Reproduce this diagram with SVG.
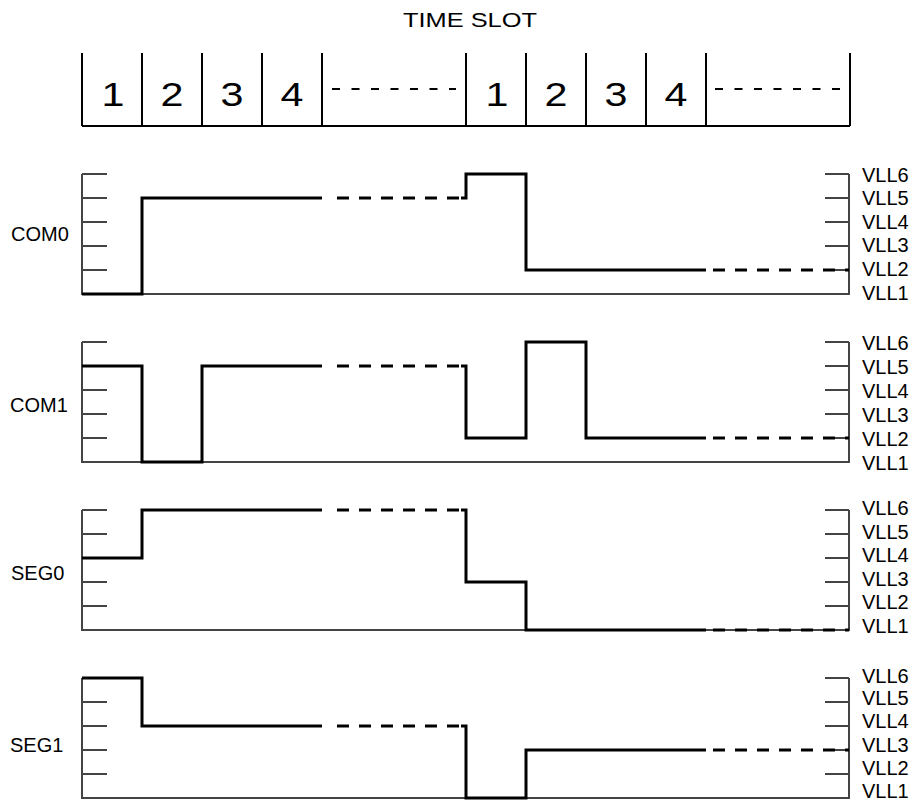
<svg xmlns="http://www.w3.org/2000/svg" width="915" height="806" viewBox="0 0 915 806">
<style>
text{font-family:"Liberation Sans",Arial,sans-serif;fill:#000}
.lbl{font-size:20px}
.dig{font-size:33px;text-anchor:middle}
.box{stroke:#000;stroke-width:2;fill:none}
.boxdash{stroke:#000;stroke-width:1.8;fill:none;stroke-dasharray:8 11.5}
.axis{stroke:#444;stroke-width:2;fill:none}
.wave{stroke:#000;stroke-width:3;fill:none;stroke-linejoin:miter}
.wdash{stroke:#000;stroke-width:3;fill:none;stroke-dasharray:12 10}
</style>
<rect width="915" height="806" fill="#fff"/>

<g id="time-slot">
<text x="403" y="27" font-size="21" textLength="134" lengthAdjust="spacingAndGlyphs">TIME SLOT</text>
<path class="box" d="M82,126 H850 M82,53 V126 M142,53 V126 M202,53 V126 M262,53 V126 M322,53 V126 M466,53 V126 M526,53 V126 M586,53 V126 M646,53 V126 M706,53 V126 M850,53 V126"/>
<path class="boxdash" d="M332,89 H456 M715,89 H840"/>
<g transform="translate(113,106) scale(1.25,1)"><text class="dig" x="0" y="0">1</text></g>
<g transform="translate(172,106) scale(1.25,1)"><text class="dig" x="0" y="0">2</text></g>
<g transform="translate(232,106) scale(1.25,1)"><text class="dig" x="0" y="0">3</text></g>
<g transform="translate(292,106) scale(1.25,1)"><text class="dig" x="0" y="0">4</text></g>
<g transform="translate(497,106) scale(1.25,1)"><text class="dig" x="0" y="0">1</text></g>
<g transform="translate(556,106) scale(1.25,1)"><text class="dig" x="0" y="0">2</text></g>
<g transform="translate(616,106) scale(1.25,1)"><text class="dig" x="0" y="0">3</text></g>
<g transform="translate(676,106) scale(1.25,1)"><text class="dig" x="0" y="0">4</text></g>
</g>

<g id="com0">
<text class="lbl" x="11" y="241">COM0</text>
<path class="axis" d="M82,174 V294 H849 V174 M82,174 H107 M82,198 H107 M82,222 H107 M82,246 H107 M82,270 H107 M825,174 H849 M825,198 H849 M825,222 H849 M825,246 H849 M825,270 H849"/>
<path class="wave" d="M82,294 H142 V198 H322 M461,198 H466 V174 H526 V270 H706"/>
<path class="wdash" d="M337,198 H459 M713,270 H849"/>
<text class="lbl" x="862" y="182">VLL6</text>
<text class="lbl" x="862" y="205">VLL5</text>
<text class="lbl" x="862" y="229">VLL4</text>
<text class="lbl" x="862" y="252">VLL3</text>
<text class="lbl" x="862" y="276">VLL2</text>
<text class="lbl" x="862" y="300">VLL1</text>
</g>

<g id="com1">
<text class="lbl" x="10" y="412">COM1</text>
<path class="axis" d="M82,342 V462 H849 V342 M82,342 H107 M82,366 H107 M82,390 H107 M82,414 H107 M82,438 H107 M825,342 H849 M825,366 H849 M825,390 H849 M825,414 H849 M825,438 H849"/>
<path class="wave" d="M82,366 H142 V462 H202 V366 H322 M461,366 H466 V438 H526 V342 H586 V438 H706"/>
<path class="wdash" d="M337,366 H459 M713,438 H849"/>
<text class="lbl" x="862" y="350">VLL6</text>
<text class="lbl" x="862" y="374">VLL5</text>
<text class="lbl" x="862" y="398">VLL4</text>
<text class="lbl" x="862" y="422">VLL3</text>
<text class="lbl" x="862" y="446">VLL2</text>
<text class="lbl" x="862" y="470">VLL1</text>
</g>

<g id="seg0">
<text class="lbl" x="11" y="580">SEG0</text>
<path class="axis" d="M82,510 V630 H849 V510 M82,510 H107 M82,534 H107 M82,558 H107 M82,582 H107 M82,606 H107 M825,510 H849 M825,534 H849 M825,558 H849 M825,582 H849 M825,606 H849"/>
<path class="wave" d="M82,558 H142 V510 H322 M461,510 H466 V582 H526 V630 H706"/>
<path class="wdash" d="M337,510 H459 M713,630 H849"/>
<text class="lbl" x="862" y="515">VLL6</text>
<text class="lbl" x="862" y="539">VLL5</text>
<text class="lbl" x="862" y="562">VLL4</text>
<text class="lbl" x="862" y="586">VLL3</text>
<text class="lbl" x="862" y="609">VLL2</text>
<text class="lbl" x="862" y="633">VLL1</text>
</g>

<g id="seg1">
<text class="lbl" x="10" y="752">SEG1</text>
<path class="axis" d="M82,678 V798 H849 V678 M82,678 H107 M82,702 H107 M82,726 H107 M82,750 H107 M82,774 H107 M825,678 H849 M825,702 H849 M825,726 H849 M825,750 H849 M825,774 H849"/>
<path class="wave" d="M82,678 H142 V726 H322 M461,726 H466 V798 H526 V750 H706"/>
<path class="wdash" d="M337,726 H459 M713,750 H849"/>
<text class="lbl" x="862" y="683">VLL6</text>
<text class="lbl" x="862" y="705">VLL5</text>
<text class="lbl" x="862" y="728">VLL4</text>
<text class="lbl" x="862" y="752">VLL3</text>
<text class="lbl" x="862" y="775">VLL2</text>
<text class="lbl" x="862" y="798">VLL1</text>
</g>
</svg>
